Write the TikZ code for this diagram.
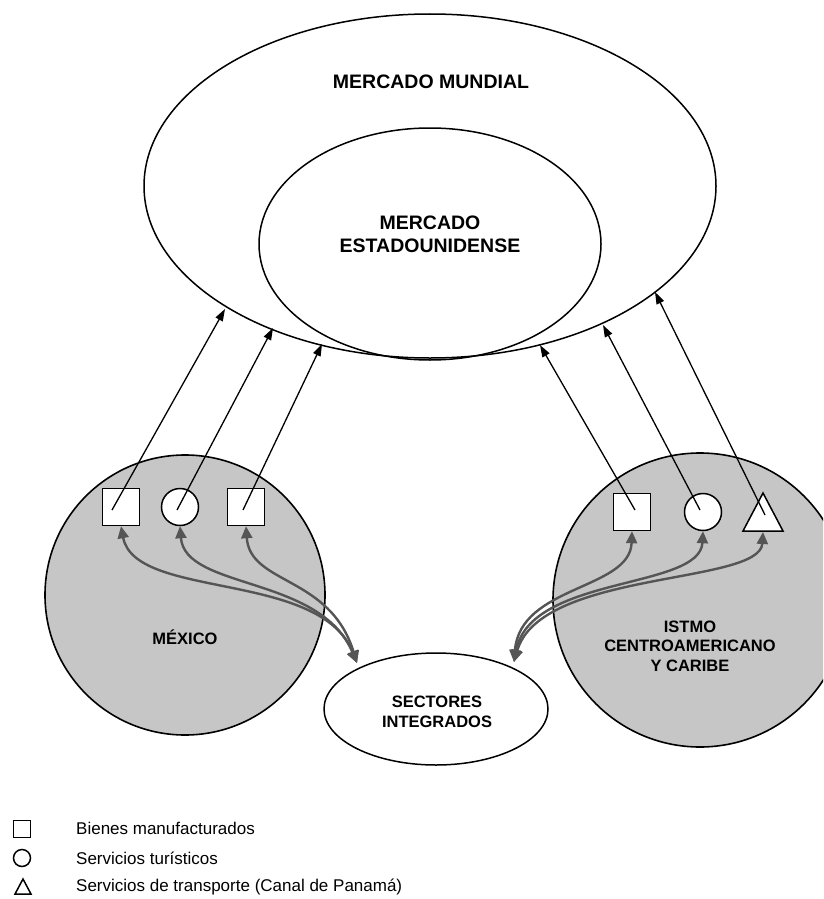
\documentclass[tikz,border=0pt]{standalone}
\usepackage{fontspec}
\setmainfont{Liberation Sans}
\usetikzlibrary{arrows.meta,calc,shapes.geometric}
\definecolor{shade}{HTML}{C6C6C6}
\definecolor{feedgray}{HTML}{555555}
\begin{document}
\begin{tikzpicture}[x=1pt,y=-1pt,
  outline/.style={draw=black,line width=1.5pt,ellipse,inner sep=0pt},
  region/.style={draw=black,line width=1.6pt,fill=shade,circle,inner sep=0pt},
  sym/.style={draw=black,line width=1.5pt,fill=white,inner sep=0pt},
  sqsym/.style={sym,rectangle,minimum size=37pt},
  cisym/.style={sym,circle,minimum size=37pt},
  link/.style={line width=1.3pt,-{Triangle[length=12pt,width=8pt]}},
  feed/.style={draw=feedgray,line width=2.4pt,{Triangle[length=12pt,width=11pt]}-{Triangle[length=12pt,width=11pt]}},
  big/.style={font=\fontsize{19.5}{23}\selectfont\bfseries,align=center,inner sep=0pt},
  lab/.style={font=\fontsize{16.5}{19.5}\selectfont\bfseries,align=center,inner sep=0pt},
  leg/.style={font=\fontsize{17}{20}\selectfont,anchor=west,inner sep=0pt}]
\useasboundingbox (0,0) rectangle (823,899);
\clip (0,0) rectangle (823,899);

% markets
\node[outline,minimum width=572pt,minimum height=344pt] (mundial) at (430,186) {};
\node[outline,minimum width=342pt,minimum height=232pt] (eeuu) at (430,244) {};
\node[big] (tmundial) at (431,82) {MERCADO MUNDIAL};
\node[big] (teeuu) at (430,234) {MERCADO\\ESTADOUNIDENSE};

% regions
\node[region,minimum size=280pt] (mexico) at (185,595) {};
\node[region,minimum size=294pt] (istmo) at (700,600) {};
\node[lab] (tmexico) at (185,637) {MÉXICO};
\node[lab] (tistmo) at (690,646) {ISTMO\\CENTROAMERICANO\\Y CARIBE};

\node[outline,minimum width=224pt,minimum height=112pt] (sect) at (436,709) {};
\node[lab] (tsect) at (437,712) {SECTORES\\INTEGRADOS};

% symbols
\node[sqsym] (m1) at (121,507) {};
\node[cisym] (m2) at (180,507) {};
\node[sqsym] (m3) at (246,507) {};
\node[sqsym] (c1) at (632,512) {};
\node[cisym] (c2) at (703,512) {};
\coordinate (c3) at (763,512);
\draw[line width=1.5pt,fill=white] ($(c3)+(0,-19)$) -- ($(c3)+(20,19)$) -- ($(c3)+(-20,19)$) -- cycle;

% arrow tips on the world market
\coordinate (t1) at (225,309);
\coordinate (t2) at (273,328);
\coordinate (t3) at (322,344);
\coordinate (t4) at (540,345);
\coordinate (t5) at (603,325);
\coordinate (t6) at (655,292);

\draw[link] ($(m1)+(-9,3)$) -- (t1);
\draw[link] ($(m2)+(-3,3)$) -- (t2);
\draw[link] ($(m3)+(-3,3)$) -- (t3);
\draw[link] ($(c1)+(3,-2)$) -- (t4);
\draw[link] ($(c2)+(-3,-2)$) -- (t5);
\draw[link] ($(c3)+(2,3)$) -- (t6);

% integrated sectors
\coordinate (sl) at (357,663);
\coordinate (sr) at (514,662);
\draw[feed] (m1.south) .. controls (135,600) and (320,570) .. (sl);
\draw[feed] (m2.south) .. controls (185,590) and (320,575) .. (sl);
\draw[feed] (m3.south) .. controls (250,585) and (330,575) .. (sl);
\draw[feed] (c1.south) .. controls (630,590) and (520,585) .. (sr);
\draw[feed] (c2.south) .. controls (700,590) and (530,575) .. (sr);
\draw[feed] ($(c3)+(0,20)$) .. controls (760,585) and (540,570) .. (sr);

% legend
\node[sym,rectangle,minimum size=17pt] (lsq) at (22,829) {};
\node[sym,circle,minimum size=17pt] (lci) at (22,858) {};
\coordinate (ltr) at (23,887);
\draw[line width=1.5pt] ($(ltr)+(0,-8)$) -- ($(ltr)+(8,7)$) -- ($(ltr)+(-8,7)$) -- cycle;
\node[leg] (lt1) at (76,828) {Bienes manufacturados};
\node[leg] (lt2) at (76,858) {Servicios turísticos};
\node[leg] (lt3) at (76,887) {Servicios de transporte (Canal de Panamá)};
\end{tikzpicture}
\end{document}
